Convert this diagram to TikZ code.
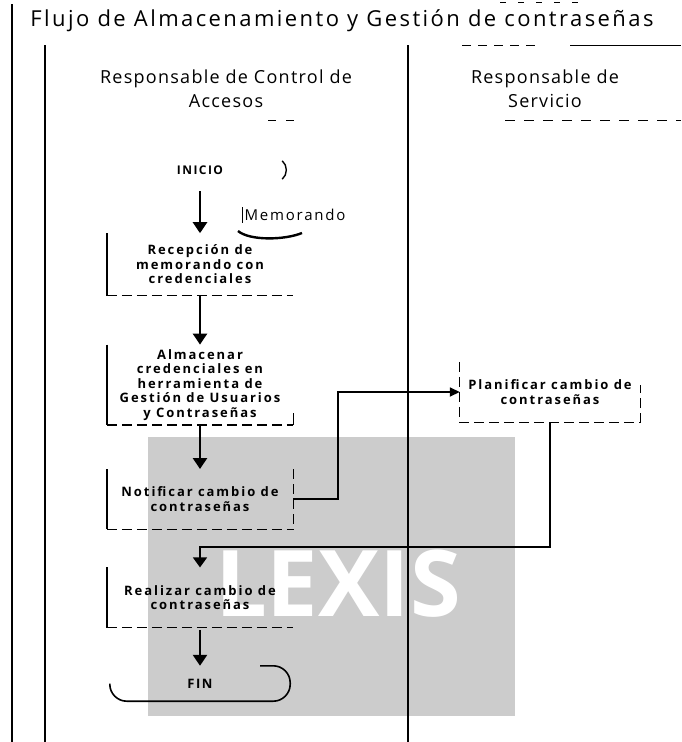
\documentclass[tikz,border=0pt]{standalone}
\usepackage{fontspec}
\setmainfont{Open Sans}
\newfontfamily\titlefont[LetterSpace=11]{Open Sans}
\newfontfamily\lanefont[LetterSpace=7]{Open Sans}
\newfontfamily\boxfont[LetterSpace=15]{Open Sans}
\newfontfamily\memofont[LetterSpace=12]{Open Sans}
\usetikzlibrary{arrows.meta,positioning}

\begin{document}
\begin{tikzpicture}[x=1pt, y=-1pt,
    box/.style={minimum width=186pt, minimum height=60pt, inner sep=1pt, align=center, font=\boxfont\bfseries\fontsize{13}{14.5}\selectfont},
    term/.style={minimum width=180pt, minimum height=32pt, inner sep=1pt, font=\memofont\bfseries\fontsize{12}{13}\selectfont},
    lane/.style={align=center, font=\lanefont\fontsize{18}{24}\selectfont},
    arr/.style={-{Triangle[length=11pt,width=14pt]}, line width=2.6pt},
    conn/.style={-{Triangle[length=10pt,width=9pt]}, line width=1.7pt},
    edge/.style={line width=1.4pt},
    dashedge/.style={line width=1.2pt, dash pattern=on 10pt off 5pt}]
    \useasboundingbox (0,0) rectangle (681,742);
    % watermark
    \fill[black!20] (148,437) rectangle (515,716);
    \node[text=white, font=\bfseries\fontsize{92}{92}\selectfont] (mark) at (338,584) {LEXIS};
    % pool and lanes
    \node[font=\titlefont\fontsize{22}{24}\selectfont] (title) at (342,21) {Flujo de Almacenamiento y Gestión de contraseñas};
    \draw[line width=1.8pt] (12,4) -- (12,742);
    \draw[line width=1.6pt] (45,45) -- (45,742);
    \draw[line width=1.8pt] (408,45) -- (408,742);
    \draw[line width=1pt, dash pattern=on 6pt off 12pt] (500,2) -- (580,2);
    \draw[line width=1pt, dash pattern=on 9pt off 7pt] (462,45) -- (535,45);
    \draw[line width=1pt] (570,45) -- (681,45);
    \draw[line width=1pt, dash pattern=on 8pt off 10pt] (268,120) -- (300,120);
    \draw[line width=1pt, dash pattern=on 10pt off 9pt] (505,120) -- (681,120);
    \node[lane] (lcontrol) at (226,89) {Responsable de Control de\\Accesos};
    \node[lane] (lservicio) at (545,89) {Responsable de\\Servicio};
    % flow
    \node[term] (ini) at (200,170) {INICIO};
    \node[box, minimum height=62pt, below=47pt of ini] (recep) {Recepción de\\memorando con\\credenciales};
    \node[box, minimum height=80pt, below=49pt of recep] (alma) {Almacenar\\credenciales en\\herramienta de\\Gestión de Usuarios\\y Contraseñas};
    \node[box, below=44pt of alma] (notif) {Notificar cambio de\\contraseñas};
    \node[box, below=38pt of notif] (real) {Realizar cambio de\\contraseñas};
    \node[term, minimum height=35pt, font=\memofont\bfseries\fontsize{13}{14}\selectfont, below=38pt of real] (fin) {FIN};
    \node[box, minimum width=180pt] (plan) at (550,392) {Planificar cambio de\\contraseñas};
    \node[font=\memofont\fontsize{15}{16}\selectfont, inner sep=2pt] (memo) at (295,215) {Memorando};
    % box outlines
    \foreach \b in {recep,alma,notif,real} {
      \draw[edge] (\b.north west) -- (\b.south west);
      \draw[dashedge] (\b.south west) -- (\b.south east);
    }
    \draw[edge] (alma.south east) -- ++(0,-12);
    \draw[dashedge] (notif.north east) -- (notif.south east);
    \draw[dashedge] (plan.north west) -- (plan.south west) -- (plan.south east) -- ++(0,-37);
    \draw[line width=1.4pt] ([xshift=-8pt,yshift=-7pt]ini.north east) to[bend left=50] ([xshift=-8pt,yshift=7pt]ini.south east);
    \draw[line width=1.6pt, rounded corners=17pt] ([xshift=-30pt]fin.north east) -- (fin.north east) -- (fin.south east) -- (fin.south west) -- (fin.west);
    \draw[edge] (memo.north west) -- (memo.south west);
    \draw[line width=2.4pt] (238,231) .. controls (250,241) and (285,240) .. (302,233);
    % arrows
    \draw[arr, shorten <=5pt] (ini) -- (recep);
    \draw[arr] (recep) -- (alma);
    \draw[arr] (alma) -- (notif);
    \draw[arr, shorten <=2pt] (real) -- (fin);
    \draw[conn] (notif.east) -- ++(45,0) |- (plan.west);
    \coordinate (bend) at (200,547);
    \draw[conn, -{Triangle[length=10pt,width=14pt]}] (plan.south) |- (bend) -- (real.north);
  \end{tikzpicture}
\end{document}
